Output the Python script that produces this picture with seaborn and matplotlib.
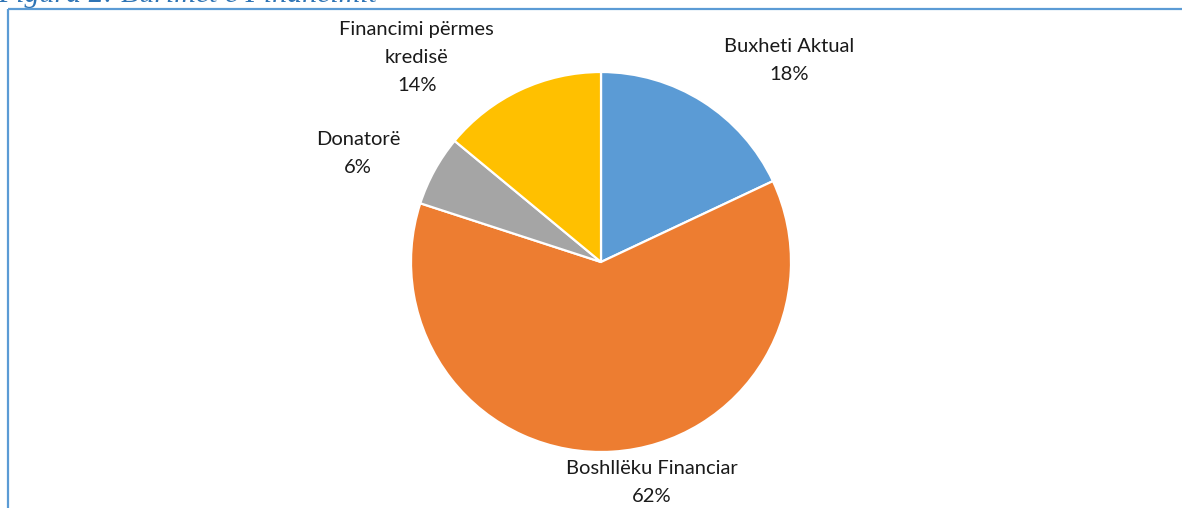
import matplotlib
matplotlib.use("Agg")
import matplotlib.pyplot as plt
import seaborn as sns
import numpy as np

# --- DATA ---
categories = ["Buxheti Aktual", "Boshllëku Financiar", "Donatorë", "Financimi përmes\nkredisë"]
shares = [18, 62, 6, 14]
colors = ["#5B9BD5", "#ED7D31", "#A5A5A5", "#FFC000"]
caption = "Figura 2: Burimet e Financimit"

# label placement (angle in degrees, distance in radii) - Excel "best fit" style
label_angle = [47, -77, 156, 132]
label_dist = [1.45, 1.19, 1.40, 1.45]

W, H = 1182, 508
CX, CY, R = 601, H - 262, 190

sns.set_theme(style="white")
plt.rcParams["font.family"] = ["Lato", "DejaVu Sans"]

fig = plt.figure(figsize=(W / 100, H / 100), dpi=100)
ax = fig.add_axes([0, 0, 1, 1])

ax.pie(shares, colors=colors, startangle=90, counterclock=False,
       center=(CX, CY), radius=R, frame=True,
       wedgeprops=dict(edgecolor="white", linewidth=1.6))
ax.set_xlim(0, W)
ax.set_ylim(0, H)
ax.set_aspect("auto")
ax.axis("off")

for name, val, ang, dist in zip(categories, shares, label_angle, label_dist):
    a = np.deg2rad(ang)
    x = CX + dist * R * np.cos(a)
    y = CY + dist * R * np.sin(a)
    ax.text(x, y, f"{name}\n{val}%", ha="center", va="center",
            fontsize=14.5, color="#1a1a1a", linespacing=1.78)

# frame lines of the surrounding document box
ax.plot([8, 8], [0, H - 9], color="#5B9BD5", lw=1.6, solid_capstyle="butt")
ax.plot([8, W], [H - 9, H - 9], color="#5B9BD5", lw=1.6, solid_capstyle="butt")

# caption, cut off at the top edge as in the source document
ax.text(-2, H - 2, caption, ha="left", va="baseline", fontsize=21.5,
        fontstyle="italic", family="Liberation Serif", color="#2E74B5")

fig.savefig("out.png", dpi=100)
